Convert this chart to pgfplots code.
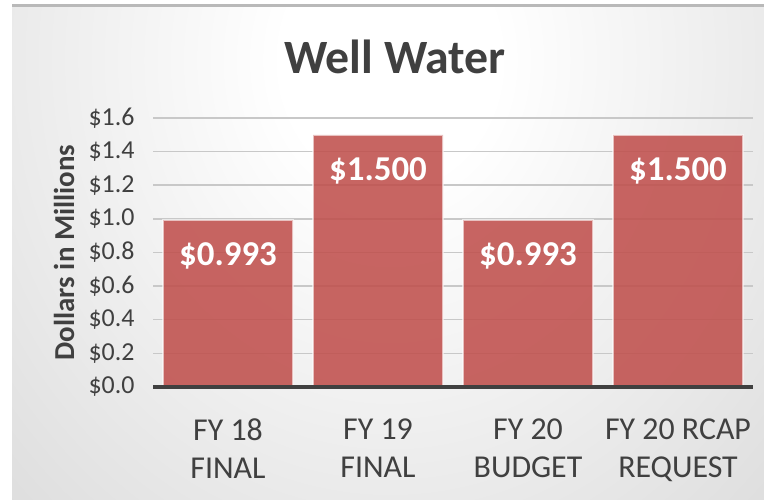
\documentclass[border=0pt]{standalone}
\usepackage{fontspec}
\setmainfont{Carlito}
\usepackage{pgfplots}
\pgfplotsset{compat=1.18}
\definecolor{txt}{RGB}{64,64,64}
\definecolor{barred}{RGB}{192,80,77}
\definecolor{bggray}{RGB}{192,192,192}
\definecolor{gridc}{RGB}{200,200,200}
\pgfdeclareradialshading{bgshade}{\pgfpoint{0bp}{0bp}}{color(0bp)=(white); color(4bp)=(white); color(35bp)=(bggray); color(50bp)=(bggray)}
\begin{document}
\begin{tikzpicture}[x=1bp,y=1bp]
\fill[white] (0,0) rectangle (764,500);
\begin{scope}
\clip (12,0) rectangle (764,494);
\fill[bggray] (12,0) rectangle (764,494);
\shade[shading=bgshade] (390,440) ellipse [x radius=671, y radius=771];
\end{scope}
\fill[gray!55] (12,493) rectangle (764,495.5);
\node[font=\bfseries\fontsize{48}{56}\selectfont, text=txt] at (395,443) {Well Water};
\begin{axis}[
  at={(153bp,113bp)}, anchor=south west,
  scale only axis, width=600bp, height=269bp,
  xmin=-0.5, xmax=3.5, ymin=0, ymax=1.6,
  clip=false,
  axis line style={draw=none},
  major tick length=0pt,
  ymajorgrids, grid style={color=gridc, line width=1.5bp},
  ytick={0,0.2,0.4,0.6,0.8,1.0,1.2,1.4,1.6},
  yticklabels={\$0.0,\$0.2,\$0.4,\$0.6,\$0.8,\$1.0,\$1.2,\$1.4,\$1.6},
  yticklabel style={font=\fontsize{26}{30}\selectfont, text=txt, xshift=-15bp},
  xtick={0,1,2,3},
  xticklabels={{FY 18\\FINAL},{FY 19\\FINAL},{FY 20\\BUDGET},{FY 20 RCAP\\REQUEST}},
  xticklabel style={font=\fontsize{32}{38}\selectfont, text=txt, align=center, yshift=-28bp},
  ylabel={Dollars in Millions},
  ylabel style={font=\bfseries\fontsize{29}{34}\selectfont, text=txt, at={(axis description cs:-0.148,0.5)}, anchor=center},
  ybar, bar width=130bp,
  point meta=explicit symbolic,
  nodes near coords,
  every node near coord/.append style={font=\bfseries\fontsize{35}{40}\selectfont, text=white, text opacity=1, anchor=center, yshift=-36bp},
]
\addplot[fill=barred, fill opacity=0.88, draw=white, draw opacity=0.6, line width=1.5bp]
  coordinates {(0,0.993) [\$0.993] (1,1.5) [\$1.500] (2,0.993) [\$0.993] (3,1.5) [\$1.500]};
\draw[line width=3.5bp, color=txt] (axis cs:-0.5,0) -- (axis cs:3.5,0);
\end{axis}
\end{tikzpicture}
\end{document}
